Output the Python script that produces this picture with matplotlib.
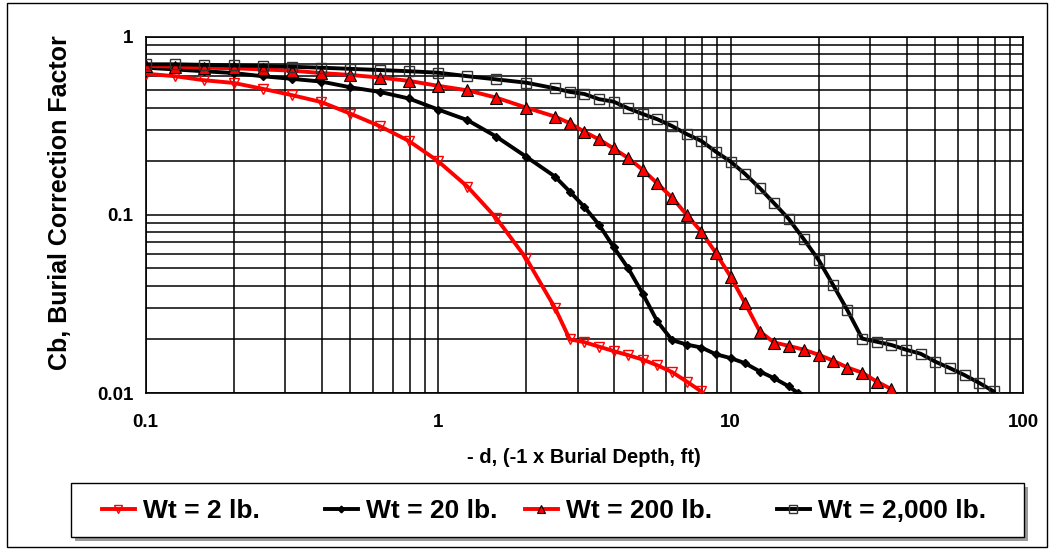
import matplotlib
matplotlib.use("Agg")
import matplotlib.pyplot as plt
from matplotlib.ticker import LogLocator, FixedLocator, FixedFormatter, NullFormatter
from matplotlib.patches import Rectangle

plt.rcParams['font.family'] = ['Liberation Sans', 'DejaVu Sans']
plt.rcParams['font.weight'] = 'bold'

# ---- data ----
x_coarse = [0.1, 0.126, 0.158, 0.2, 0.251, 0.316, 0.398, 0.501, 0.631, 0.794,
            1.0, 1.26, 1.58, 2.0, 2.51]
x_fine = [2.82, 3.16, 3.55, 3.98, 4.47, 5.01, 5.62, 6.31, 7.08, 7.94,
          8.91, 10.0, 11.2, 12.6, 14.1, 15.8, 17.8, 20.0, 22.4, 25.1,
          28.2, 31.6, 35.5, 39.8, 44.7, 50.1, 56.2, 63.1, 70.8, 79.4]

x_2lb = x_coarse + x_fine[:10]
y_2lb = [0.62, 0.60, 0.57, 0.55, 0.51, 0.47, 0.43, 0.37, 0.315, 0.26,
         0.20, 0.144, 0.096, 0.057, 0.030,
         0.0200, 0.0193, 0.0182, 0.0172, 0.0163, 0.0154, 0.0143, 0.0131, 0.0116, 0.0102]

x_20lb = x_coarse + x_fine[:16] + [17.0]
y_20lb = [0.67, 0.655, 0.64, 0.625, 0.60, 0.58, 0.56, 0.52, 0.49, 0.45,
          0.39, 0.34, 0.275, 0.212, 0.164,
          0.135, 0.111, 0.088, 0.066, 0.050, 0.036, 0.0252, 0.0198, 0.0187, 0.0180,
          0.0165, 0.0157, 0.0147, 0.0132, 0.0121, 0.0109, 0.0100]

x_200lb = x_coarse + x_fine[:23]
y_200lb = [0.685, 0.68, 0.67, 0.665, 0.655, 0.645, 0.625, 0.61, 0.59, 0.565,
           0.53, 0.50, 0.455, 0.40, 0.356,
           0.327, 0.293, 0.265, 0.236, 0.208, 0.179, 0.150, 0.125, 0.100, 0.0805,
           0.061, 0.045, 0.032, 0.0221, 0.0192, 0.0184, 0.0175, 0.0164, 0.0152, 0.0139,
           0.0130, 0.0116, 0.0105]

x_2000lb = x_coarse + x_fine
y_2000lb = [0.70, 0.70, 0.695, 0.69, 0.685, 0.678, 0.67, 0.66, 0.65, 0.64,
            0.628, 0.60, 0.576, 0.552, 0.513,
            0.49, 0.477, 0.446, 0.432, 0.396, 0.368, 0.344, 0.315, 0.284, 0.26,
            0.226, 0.199, 0.17, 0.141, 0.116, 0.095, 0.073, 0.0558, 0.0405, 0.0291,
            0.0202, 0.0194, 0.0186, 0.0175, 0.0166, 0.0150, 0.0138, 0.0126, 0.0114, 0.0102]

labels = ["Wt = 2 lb.", "Wt = 20 lb.", "Wt = 200 lb.", "Wt = 2,000 lb."]
x_ticks = [0.1, 1, 10, 100]
x_ticklabels = ["0.1", "1", "10", "100"]
y_ticks = [0.01, 0.1, 1]
y_ticklabels = ["0.01", "0.1", "1"]

# ---- figure ----
fig = plt.figure(figsize=(10.52, 5.5), dpi=100)
W, H = 1052, 550
ax = fig.add_axes([145.7 / W, 1 - 393 / H, (1023 - 145.7) / W, (393 - 36.7) / H])

lw = 2.8
lines = []
lines += ax.plot(x_2lb, y_2lb, color='red', lw=lw, marker='v', ms=7, mfc='none',
                 mec='red', mew=1.0, label=labels[0], zorder=5)
lines += ax.plot(x_20lb, y_20lb, color='black', lw=lw, marker='D', ms=4.5, mfc='black',
                 mec='black', label=labels[1], zorder=5)
lines += ax.plot(x_200lb, y_200lb, color='red', lw=lw, marker='^', ms=8, mfc='red',
                 mec='black', mew=0.8, label=labels[2], zorder=5)
lines += ax.plot(x_2000lb, y_2000lb, color='black', lw=lw, marker='s', ms=7.5, mfc='none',
                 mec='#333333', mew=1.0, label=labels[3], zorder=5)

ax.set_xscale('log')
ax.set_yscale('log')
ax.set_xlim(0.1, 100)
ax.set_ylim(0.01, 1)

ax.xaxis.set_major_locator(FixedLocator(x_ticks))
ax.xaxis.set_major_formatter(FixedFormatter(x_ticklabels))
ax.yaxis.set_major_locator(FixedLocator(y_ticks))
ax.yaxis.set_major_formatter(FixedFormatter(y_ticklabels))
ax.xaxis.set_minor_locator(LogLocator(base=10, subs=range(2, 10)))
ax.yaxis.set_minor_locator(LogLocator(base=10, subs=range(2, 10)))
ax.xaxis.set_minor_formatter(NullFormatter())
ax.yaxis.set_minor_formatter(NullFormatter())

ax.grid(True, which='both', color='black', lw=1.1)
ax.tick_params(which='both', length=0)
ax.tick_params(axis='x', pad=15, labelsize=13.5)
ax.tick_params(axis='y', pad=9, labelsize=13.5)
for s in ax.spines.values():
    s.set_color('black')
    s.set_linewidth(1.2)

ax.set_xlabel("- d, (-1 x Burial Depth, ft)", fontsize=14.5, fontweight='bold', labelpad=12)
ax.set_ylabel("Cb, Burial Correction Factor", fontsize=18, fontweight='bold')
ax.yaxis.set_label_coords(-0.0835, 0.535)

# legend frame with shadow
lx0, lx1, ly0, ly1 = 71, 1024, 483, 537
fig.patches.append(Rectangle(((lx0 + 4) / W, 1 - (ly1 + 4) / H), (lx1 - lx0) / W, (ly1 - ly0) / H,
                             transform=fig.transFigure, facecolor='#9a9a9a',
                             edgecolor='none', zorder=1))
fig.patches.append(Rectangle((lx0 / W, 1 - ly1 / H), (lx1 - lx0) / W, (ly1 - ly0) / H,
                             transform=fig.transFigure, facecolor='white',
                             edgecolor='black', lw=1.0, zorder=2))

# legend entries placed individually
entry_x = [99, 322, 522, 774]
for h, lab, ex in zip(lines, labels, entry_x):
    lg = fig.legend(handles=[h], labels=[lab], loc='center left',
                    bbox_to_anchor=(ex / W, 1 - 511 / H), frameon=False,
                    prop={'size': 19, 'weight': 'bold'}, handlelength=1.25,
                    markerscale=0.75, borderaxespad=0, borderpad=0.1,
                    handletextpad=0.3)
    lg.set_zorder(3)

# outer border
fig.patches.append(Rectangle((7 / W, 3 / H), (1047 - 7) / W, (547 - 3) / H,
                             transform=fig.transFigure, fill=False,
                             edgecolor='black', lw=1.0))

fig.savefig("out.png", dpi=100)
